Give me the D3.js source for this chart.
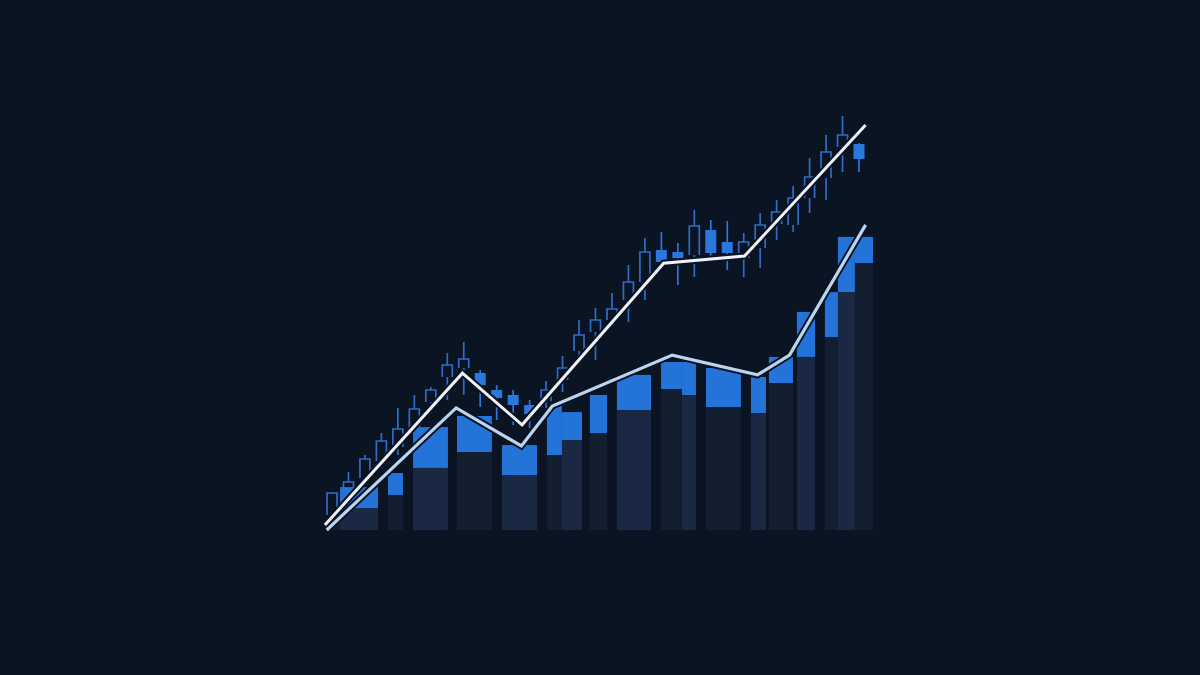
<!DOCTYPE html>
<html><head><meta charset="utf-8">
<script src="https://cdn.jsdelivr.net/npm/d3@7"></script>
<style>html,body{margin:0;padding:0;background:#0b1423;}svg{display:block;}</style>
</head><body>
<svg id="chart" width="1200" height="675"></svg>
<script>
// ---- data (session index based) ----
const candleOpen  = [103.75,108.25,113,117.25,120.75,125.5,132,138.25,140.5,139.25,135,133.75,131.25,132.25,137.5,144.75,149.5,152.5,157.5,162,170,169.5,168.75,175,172,168,170.5,176.5,176.25,183,188,195.75,196.5];
const candleHigh  = [109.5,114.5,118.75,124.25,130.5,133.75,135.75,144.25,147,140,136.25,135,132.5,137.25,143.5,152.5,155.5,159.25,166.25,173,174.5,171.75,180,177.5,177.25,174.25,179.25,182.5,186,193,198.75,203.5,196.75];
const candleLow   = [102.5,106.25,111.25,115.5,118.75,123,129.25,132.5,133.75,130.75,127.5,126.25,125.5,130.5,134.5,142,142.5,150.75,152,157.5,165.5,161.25,163.25,167,165,163.25,165.5,172.5,174.5,179.25,182.5,189.5,189.5];
const candleClose = [109.25,112,117.75,122.25,125.25,130.25,135,141.25,142.75,136.25,133,131.25,129,135,140.5,148.75,152.5,155.25,162,169.5,167,168,176,169.25,169.25,172,176.25,179.5,183,188.25,194.5,198.75,192.75];

const barStart = [-0.12,0.49,3.40,4.92,7.59,10.32,13.05,13.96,15.66,17.30,19.98,21.25,22.71,25.44,26.53,28.23,29.93,30.72,31.75];
const barEnd   = [0.49,2.79,4.31,7.04,9.71,12.45,13.96,15.18,16.70,19.37,21.25,22.10,24.83,26.35,27.99,29.33,30.72,31.75,32.85];
const barTotal = [2.7,14.3,19,34.3,38,28.3,41.3,39.3,45,51.7,56,56,54,51,57.7,72.7,79.3,97.7,97.7];
const barBase  = [2.7,7.3,11.7,20.7,26,18.3,25,30,32.3,40,47,45,41,39,49,57.7,64.3,79.3,89];

const trendX     = [-0.43,7.92,11.54,20.14,25.05,32.4];
const trendPrice = [101.25,139.2,126.3,166.7,168.5,201.25];

const volLineX   = [-0.32,7.54,11.5,13.38,20.66,25.83,27.78,32.4];
const volLineVal = [0,40.7,28,41.3,58.3,51.7,58.3,101.7];

// ---- scales ----
const svg = d3.select('#chart');
const x  = d3.scaleLinear().domain([0, 32]).range([332, 859]);
const yP = d3.scaleLinear().domain([100, 210]).range([530, 90]);
const yV = d3.scaleLinear().domain([0, 100]).range([530, 230]);

svg.append('rect').attr('width',1200).attr('height',675).attr('fill','#0b1423');

// ---- bars ----
const bars = barStart.map((s,i)=>({s, e:barEnd[i], t:barTotal[i], b:barBase[i], i}));
const gB = svg.append('g');
gB.selectAll('rect.dark').data(bars).join('rect')
  .attr('x', d=>x(d.s)).attr('width', d=>x(d.e)-x(d.s))
  .attr('y', d=>yV(d.b)).attr('height', d=>yV(0)-yV(d.b))
  .attr('fill', d=> d.i%2 ? '#1b2843' : '#141e31');
gB.selectAll('rect.blue').data(bars.filter(d=>d.t>d.b)).join('rect')
  .attr('x', d=>x(d.s)).attr('width', d=>x(d.e)-x(d.s))
  .attr('y', d=>yV(d.t)).attr('height', d=>yV(d.b)-yV(d.t))
  .attr('fill', '#2373d9');

// ---- candles ----
const candles = candleOpen.map((o,i)=>({i,o,h:candleHigh[i],l:candleLow[i],c:candleClose[i]}));
const bw = 10;
const gC = svg.append('g');
candles.forEach(d=>{
  const cx = x(d.i);
  const top = yP(Math.max(d.o,d.c)), bot = yP(Math.min(d.o,d.c));
  const up = d.c >= d.o;
  const col = up ? '#2f6cc6' : '#2a77de';
  gC.append('line').attr('x1',cx).attr('x2',cx).attr('y1',yP(d.h)).attr('y2',top)
    .attr('stroke',col).attr('stroke-width',1.7);
  gC.append('line').attr('x1',cx).attr('x2',cx).attr('y1',bot).attr('y2',yP(d.l))
    .attr('stroke',col).attr('stroke-width',1.7);
  if (up) {
    gC.append('path')
      .attr('d', `M${cx-bw/2},${bot}V${top}H${cx+bw/2}V${bot}`)
      .attr('fill','none').attr('stroke',col).attr('stroke-width',1.7);
  } else {
    gC.append('rect').attr('x',cx-bw/2-0.5).attr('width',bw+1)
      .attr('y',top).attr('height',Math.max(2,bot-top)).attr('fill',col);
  }
});

// ---- lines ----
const volPts = volLineX.map((v,i)=>[x(v), yV(volLineVal[i])]);
const trPts  = trendX.map((v,i)=>[x(v), yP(trendPrice[i])]);
const lg = d3.line();
svg.append('path').attr('d', lg(volPts)).attr('fill','none')
  .attr('stroke','#0b1423').attr('stroke-width',7).attr('stroke-linejoin','miter');
svg.append('path').attr('d', lg(volPts)).attr('fill','none')
  .attr('stroke','#b9d5f2').attr('stroke-width',3.2).attr('stroke-linejoin','miter');
svg.append('path').attr('d', lg(trPts)).attr('fill','none')
  .attr('stroke','#0b1423').attr('stroke-width',7).attr('stroke-linejoin','miter');
svg.append('path').attr('d', lg(trPts)).attr('fill','none')
  .attr('stroke','#eef2f8').attr('stroke-width',3).attr('stroke-linejoin','miter');
</script>
</body></html>
